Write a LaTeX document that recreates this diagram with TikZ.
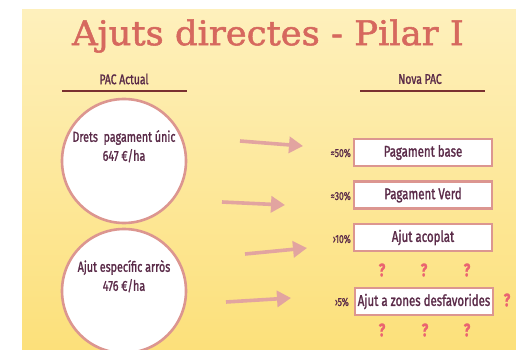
\documentclass[tikz,border=0pt]{standalone}
\usepackage{fontspec}
\setmainfont{Fira Sans}[FakeStretch=0.74, FakeBold=1.3]
\newfontfamily\titlefont{DejaVu Serif}[FakeStretch=1.04, FakeBold=1.5]
\usetikzlibrary{arrows.meta}
\definecolor{bgtop}{HTML}{FEF0BC}
\definecolor{bgbot}{HTML}{FCE07A}
\definecolor{titlecol}{HTML}{D6685E}
\definecolor{txt}{HTML}{5A2A48}
\definecolor{rule}{HTML}{7A3030}
\definecolor{pinkline}{HTML}{DC9690}
\definecolor{arrowcol}{HTML}{E2A4A0}
\definecolor{qcol}{HTML}{EA6470}
\tikzset{
  bubble/.style={circle, draw=pinkline, line width=2.6pt, fill=white, minimum size=124pt, inner sep=0pt, align=center, text=txt, font=\fontsize{14.5}{19}\selectfont},
  slot/.style={draw=pinkline, line width=2.6pt, fill=white, minimum width=138pt, minimum height=27pt, inner sep=1pt, text=txt, font=\fontsize{15.5}{16}\selectfont},
  pct/.style={anchor=east, text=txt, font=\fontsize{11.5}{12}\selectfont, inner sep=0pt},
  qm/.style={text=qcol, font=\bfseries\fontsize{18}{19}\selectfont, inner sep=0pt},
  bigarrow/.style={draw=arrowcol, line width=3.6pt, -{Triangle[length=14pt,width=16pt]}},
  heading/.style={text=txt, font=\fontsize{14}{16}\selectfont},
  underl/.style={draw=rule, line width=1.8pt}
}
\begin{document}
\begin{tikzpicture}[x=1pt,y=-1pt]
\useasboundingbox (0,0) rectangle (516,350);
\fill[white] (0,0) rectangle (516,350);
\shade[top color=bgtop, bottom color=bgbot] (22,10) rectangle (516,350);
\begin{scope}
\clip (22,10) rectangle (516,350);
\node[text=titlecol, font=\titlefont\fontsize{34}{38}\selectfont] (title) at (268,36) {Ajuts directes - Pilar I};
\node[heading] (h1) at (124,79) {PAC Actual};
\node[heading] (h2) at (420,79) {Nova PAC};
\coordinate (u1a) at (62,91); \coordinate (u1b) at (187,91);
\coordinate (u2a) at (360,91); \coordinate (u2b) at (485,91);
\draw[underl] (u1a) -- (u1b);
\draw[underl] (u2a) -- (u2b);
\node[bubble] (c1) at (124,161) {Drets\ \ pagament únic\\647 €/ha\\[12pt]};
\node[bubble] (c2) at (124,291) {Ajut específic arròs\\476 €/ha\\[12pt]};
\node[slot] (b1) at (423,152.5) {Pagament base};
\node[slot] (b2) at (423,195) {Pagament Verd};
\node[slot] (b3) at (423,237.5) {Ajut acoplat};
\node[slot] (b4) at (424,301.5) {Ajut a zones desfavorides};
\node[pct] (p1) at (351,153) {≈50\%};
\node[pct] (p2) at (351,196) {≈30\%};
\node[pct] (p3) at (351,239) {›10\%};
\node[pct] (p4) at (349,302) {›5\%};
\coordinate (a1s) at (240,141); \coordinate (a1e) at (303,146);
\coordinate (a2s) at (222,202); \coordinate (a2e) at (285,205);
\coordinate (a3s) at (245,254); \coordinate (a3e) at (307,248);
\coordinate (a4s) at (226,302); \coordinate (a4e) at (291,298);
\draw[bigarrow] (a1s) -- (a1e);
\draw[bigarrow] (a2s) -- (a2e);
\draw[bigarrow] (a3s) -- (a3e);
\draw[bigarrow] (a4s) -- (a4e);
\node[qm] (q1) at (382,270) {?};
\node[qm] (q2) at (424,270) {?};
\node[qm] (q3) at (467,270) {?};
\node[qm] (q4) at (382,330) {?};
\node[qm] (q5) at (425,330) {?};
\node[qm] (q6) at (467,330) {?};
\node[qm] (q7) at (507,300) {?};
\end{scope}
\end{tikzpicture}
\end{document}
